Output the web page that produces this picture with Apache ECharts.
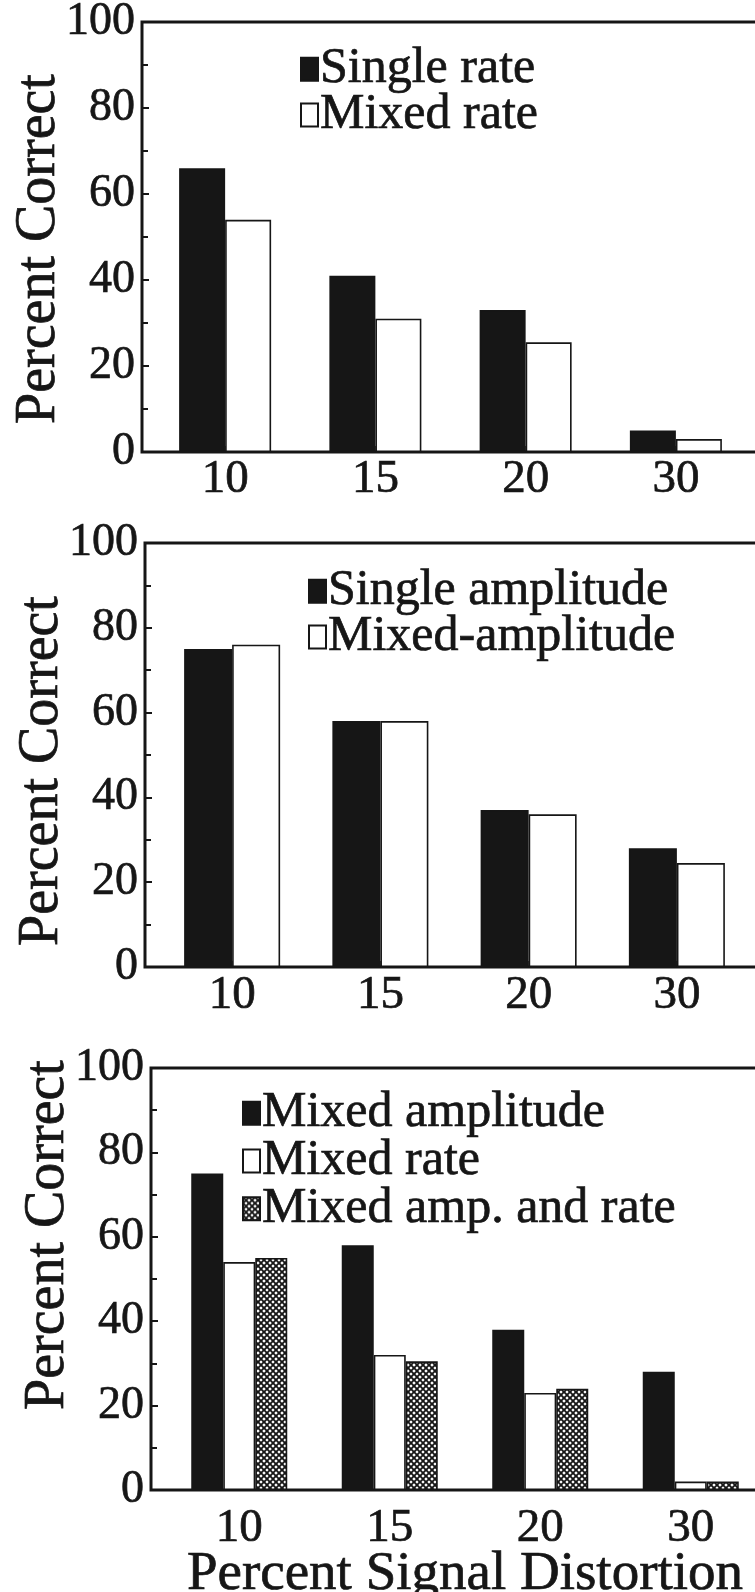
<!DOCTYPE html>
<html>
<head>
<meta charset="utf-8">
<script src="https://cdn.jsdelivr.net/npm/echarts@6/dist/echarts.min.js"></script>
<style>
html,body{margin:0;padding:0;background:#fff;}
#chart{width:755px;height:1592px;}
</style>
</head>
<body>
<div id="chart"></div>
<script>
// ---- data ----
const categories = ['10', '15', '20', '30'];
const p1SingleRate = [66, 41, 33, 5];
const p1MixedRate = [54, 31, 25.5, 3];
const p2SingleAmp = [75, 58, 37, 28];
const p2MixedAmp = [76, 58, 36, 24.5];
const p3MixedAmp = [75, 58, 38, 28];
const p3MixedRate = [54, 32, 23, 2];
const p3MixedBoth = [55, 30.5, 24, 2];
const yAxisName = 'Percent Correct';
const xAxisName = 'Percent Signal Distortion';

// ---- styles ----
const INK = '#161616';
const FONT = "'Liberation Serif', 'Times New Roman', serif";
const BOLDEN = { textBorderColor: INK, textBorderWidth: 0.7 };

function makeHatch() {
  const c = document.createElement('canvas');
  c.width = 6; c.height = 6;
  const g = c.getContext('2d');
  g.fillStyle = '#ffffff';
  g.fillRect(0, 0, 6, 6);
  g.strokeStyle = INK;
  g.lineWidth = 1.9;
  g.beginPath();
  g.moveTo(-1, -1); g.lineTo(7, 7);
  g.moveTo(7, -1); g.lineTo(-1, 7);
  g.stroke();
  return c;
}
const hatch = { image: makeHatch(), repeat: 'repeat' };

const panels = [
  { frame: { left: 142, top: 22, height: 430 }, data: { left: 150, width: 601 }, nameShift: [0, 24, 0, 0], labelMargin: 4, barWidth: 46,
    legend: { left: 300, top: 44, itemGap: -5 } },
  { frame: { left: 145, top: 543, height: 424 }, data: { left: 158, width: 593 }, nameShift: [0, 32, 0, 0], labelMargin: 5, barWidth: 48,
    legend: { left: 308, top: 566, itemGap: -5 } },
  { frame: { left: 151, top: 1068, height: 422 }, data: { left: 164, width: 602 }, nameShift: [0, 0, 0, 88], labelMargin: 15, barWidth: 32,
    legend: { left: 242, top: 1088, itemGap: -3 } }
];

const grid = [], xAxis = [], yAxis = [], legend = [];
panels.forEach((p, i) => {
  // frame grid (box + y axis)
  grid.push({ left: p.frame.left, top: p.frame.top, height: p.frame.height, right: -20,
    outerBoundsMode: 'none', containLabel: false,
    show: true, borderColor: INK, borderWidth: 3, backgroundColor: 'transparent' });
  // data grid
  grid.push({ left: p.data.left, top: p.frame.top, height: p.frame.height, width: p.data.width,
    outerBoundsMode: 'none', containLabel: false });

  xAxis.push({ gridIndex: 2 * i, type: 'value', min: 0, max: 1, show: false });
  xAxis.push({ gridIndex: 2 * i + 1, type: 'category', data: categories,
    axisLine: { show: false },
    axisTick: { show: true, inside: true, alignWithLabel: true, length: 6, lineStyle: { color: INK, width: 1.5 } },
    axisLabel: Object.assign({ color: INK, fontFamily: FONT, fontSize: 47, margin: p.labelMargin }, BOLDEN),
    name: i === 2 ? xAxisName : '', nameLocation: 'middle', nameGap: 57, nameMoveOverlap: false,
    nameTextStyle: Object.assign({ color: INK, fontFamily: FONT, fontSize: 55 }, BOLDEN) });

  yAxis.push({ gridIndex: 2 * i, type: 'value', min: 0, max: 100, interval: 20,
    axisLine: { show: false },
    axisTick: { show: true, inside: true, length: 7, lineStyle: { color: INK, width: 2 } },
    minorTick: { show: true, splitNumber: 2, length: 6, lineStyle: { color: INK, width: 2 } },
    splitLine: { show: false },
    axisLabel: Object.assign({ color: INK, fontFamily: FONT, fontSize: 46, margin: 7 }, BOLDEN),
    name: yAxisName, nameLocation: 'middle', nameGap: 75, nameRotate: 90, nameMoveOverlap: false,
    nameTextStyle: Object.assign({ color: INK, fontFamily: FONT, fontSize: 56, padding: p.nameShift }, BOLDEN) });
  yAxis.push({ gridIndex: 2 * i + 1, type: 'value', min: 0, max: 100, show: false });
});

function bar(name, data, panelIdx, color) {
  return {
    type: 'bar', name: name, data: data,
    xAxisIndex: 2 * panelIdx + 1, yAxisIndex: 2 * panelIdx + 1,
    barWidth: panels[panelIdx].barWidth, barGap: '0%',
    itemStyle: { color: color, borderColor: INK, borderWidth: 1.6 },
    emphasis: { disabled: true },
    animation: false
  };
}

const series = [
  bar('Single rate', p1SingleRate, 0, INK),
  bar('Mixed rate', p1MixedRate, 0, '#ffffff'),
  bar('Single amplitude', p2SingleAmp, 1, INK),
  bar('Mixed-amplitude', p2MixedAmp, 1, '#ffffff'),
  bar('Mixed amplitude', p3MixedAmp, 2, INK),
  bar('Mixed rate ', p3MixedRate, 2, '#ffffff'),
  bar('Mixed amp. and rate', p3MixedBoth, 2, hatch)
];

const legendNames = [
  ['Single rate', 'Mixed rate'],
  ['Single amplitude', 'Mixed-amplitude'],
  ['Mixed amplitude', 'Mixed rate ', 'Mixed amp. and rate']
];
panels.forEach((p, i) => {
  legend.push({
    data: legendNames[i], orient: 'vertical', left: p.legend.left, top: p.legend.top,
    itemGap: p.legend.itemGap, itemWidth: 17, itemHeight: 23, icon: 'rect',
    selectedMode: false, padding: 0,
    textStyle: Object.assign({ color: INK, fontFamily: FONT, fontSize: 50, lineHeight: 36, padding: [0, 0, 0, -3] }, BOLDEN)
  });
});

const chart = echarts.init(document.getElementById('chart'), null, { renderer: 'canvas' });
chart.setOption({
  animation: false,
  backgroundColor: '#ffffff',
  grid, xAxis, yAxis, legend, series
});
</script>
</body>
</html>
